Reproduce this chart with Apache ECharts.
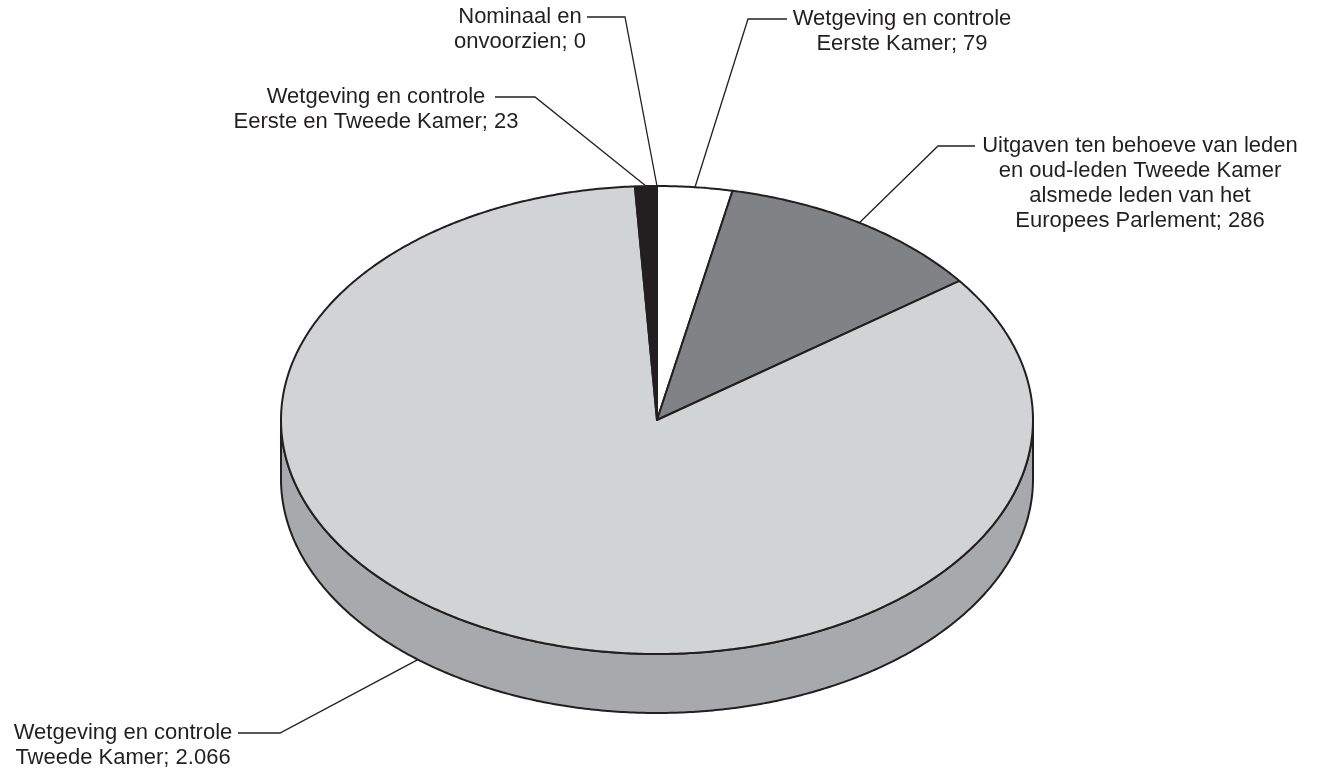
<!DOCTYPE html>
<html><head><meta charset="utf-8">
<script src="https://cdn.jsdelivr.net/npm/echarts@6/dist/echarts.min.js"></script>
<style>html,body{margin:0;padding:0;background:#fff}#c{width:1321px;height:770px}</style>
</head><body><div id="c"></div>
<script>
// ---- data ----
const nameLines = [
  ['Wetgeving en controle', 'Eerste Kamer'],
  ['Uitgaven ten behoeve van leden', 'en oud-leden Tweede Kamer', 'alsmede leden van het', 'Europees Parlement'],
  ['Wetgeving en controle', 'Tweede Kamer'],
  ['Wetgeving en controle', 'Eerste en Tweede Kamer'],
  ['Nominaal en', 'onvoorzien']
];
const categories = nameLines.map(l => l.join(' '));
const values = [79, 286, 2066, 23, 0];

// ---- styles / layout ----
const topColors  = ['#ffffff', '#808285', '#d1d3d4', '#231f20', '#ffffff'];
const sideColors = ['#e6e7e8', '#636466', '#a7a9ac', '#231f20', '#e6e7e8'];
const INK = '#231f20';
const CX = 657, CY = 420, RX = 376, RY = 234, DEPTH = 59;
const FONT = '22px "Liberation Sans", Arial, Helvetica, sans-serif';
const LH = 25;
// label text centre x, first line centre y, leader start + elbow, optional anchor override
const labelLayout = [
  {tx: 902, ty: 19, line: [[787, 19], [748, 19]]},
  {tx: 1140, ty: 146, line: [[975, 146], [938, 146]]},
  {tx: 123, ty: 733, line: [[238, 733], [280, 733]], anchorDeg: 219.5, onRim: true},
  {tx: 376, ty: 97, line: [[495, 97], [535, 97]]},
  {tx: 520, ty: 17, line: [[587, 17], [625, 17]]}
];

const total = values.reduce((a, b) => a + b, 0);
const cum = []; values.reduce((acc, v, i) => { cum[i] = acc; return acc + v; }, 0);
function fmt(v) { return String(v).replace(/\B(?=(\d{3})+(?!\d))/g, '.'); }

function pt(a, dy) { return [CX + RX * Math.sin(a), CY - RY * Math.cos(a) + (dy || 0)]; }
function arc(a, b, dy) {
  const n = Math.max(2, Math.ceil(Math.abs(b - a) / (Math.PI / 360)));
  const out = [];
  for (let k = 0; k <= n; k++) out.push(pt(a + (b - a) * k / n, dy));
  return out;
}

function renderItem(params, api) {
  const i = params.dataIndex;
  const v = api.value(0);
  const s = cum[i] / total * 2 * Math.PI;
  const e = (cum[i] + v) / total * 2 * Math.PI;
  const children = [];
  if (v > 0) {
    const a = Math.max(s, Math.PI / 2), b = Math.min(e, Math.PI * 1.5);
    if (b > a) {
      children.push({type: 'polygon', z2: 1,
        shape: {points: arc(a, b, 0).concat(arc(b, a, DEPTH))},
        style: {fill: sideColors[i], stroke: INK, lineWidth: 2, lineJoin: 'round'}});
    }
    children.push({type: 'polygon', z2: 5,
      shape: {points: [[CX, CY]].concat(arc(s, e, 0))},
      style: {fill: topColors[i], stroke: INK, lineWidth: 2, lineJoin: 'round'}});
  }
  const L = labelLayout[i];
  const mid = L.anchorDeg != null ? L.anchorDeg * Math.PI / 180 : (s + e) / 2;
  const anchor = pt(mid, L.onRim ? DEPTH : 0);
  children.push({type: 'polyline', z2: 10,
    shape: {points: L.line.concat([anchor])},
    style: {stroke: INK, lineWidth: 1.3, fill: null}});
  const lines = nameLines[i].slice();
  lines[lines.length - 1] += '; ' + fmt(v);
  children.push({type: 'text', z2: 10, x: L.tx, y: L.ty - LH / 2,
    style: {text: lines.join('\n'), font: FONT, fill: INK,
      textAlign: 'center', textVerticalAlign: 'top', lineHeight: LH}});
  return {type: 'group', children};
}

const chart = echarts.init(document.getElementById('c'), null, {renderer: 'canvas'});
chart.setOption({
  backgroundColor: '#ffffff',
  animation: false,
  series: [{
    type: 'custom',
    coordinateSystem: 'none',
    renderItem,
    data: values.map((v, i) => ({name: categories[i], value: [v]}))
  }]
});
</script></body></html>
